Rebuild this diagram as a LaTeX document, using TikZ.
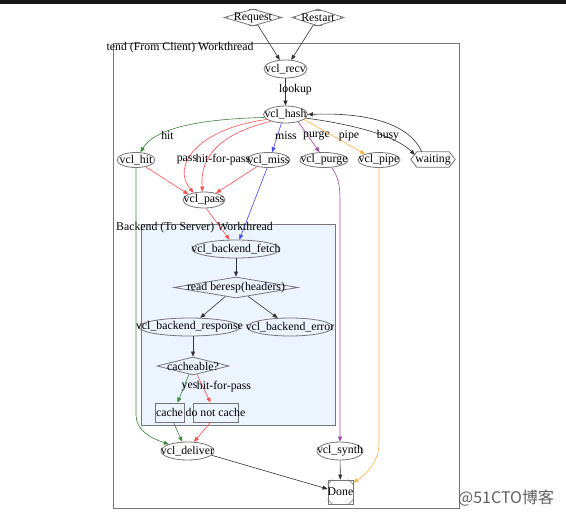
\documentclass[tikz,border=0pt]{standalone}
\usepackage{fontspec}
\setmainfont{Liberation Serif}
\newfontfamily\cjkfont{Noto Sans CJK SC}
\usetikzlibrary{shapes.geometric,arrows.meta,calc}
\definecolor{ngray}{RGB}{118,118,118}
\definecolor{ekc}{RGB}{50,50,50}
\definecolor{egc}{RGB}{60,135,60}
\definecolor{erc}{RGB}{255,80,80}
\definecolor{ebc}{RGB}{70,70,255}
\definecolor{epc}{RGB}{160,70,170}
\definecolor{eoc}{RGB}{255,180,70}
\definecolor{bkfill}{RGB}{236,244,255}
\newcommand\dmarks[1]{\draw[ngray, line width=0.6pt] ($(#1.west)!4pt!(#1.north)$) -- ($(#1.west)!4pt!(#1.south)$) ($(#1.east)!4pt!(#1.north)$) -- ($(#1.east)!4pt!(#1.south)$) ($(#1.north)!4pt!(#1.west)$) -- ($(#1.north)!4pt!(#1.east)$) ($(#1.south)!4pt!(#1.west)$) -- ($(#1.south)!4pt!(#1.east)$);}
\begin{document}
\begin{tikzpicture}[x=1pt,y=-1pt,
  txt/.style={font=\fontsize{11.8}{13}\selectfont, inner sep=0pt, text=black},
  ell/.style={draw=ngray, line width=0.8pt, ellipse, inner sep=0pt},
  dia/.style={draw=ngray, line width=0.8pt, diamond, inner sep=0pt},
  boxn/.style={draw=ngray, line width=0.8pt, rectangle, inner sep=0pt},
  conn/.style={line width=0.6pt, -{Triangle[length=5pt,width=4pt]}},
  ck/.style={conn, draw=ekc},
  cg/.style={conn, draw=egc},
  cr/.style={conn, draw=erc},
  cb/.style={conn, draw=ebc},
  cp/.style={conn, draw=epc},
  co/.style={conn, draw=eoc}]
\useasboundingbox (0,0) rectangle (566,517);
\fill[white] (0,0) rectangle (566,517);
\fill[black!92] (0,0) rectangle (566,3.5);
% clusters
\draw[ngray, line width=0.8pt] (113,43) rectangle (459,508);
\draw[ngray, fill=bkfill, line width=0.8pt] (141,224) rectangle (335,425);
\node[txt, anchor=west] (ftl) at (106.5,48) {tend (From Client) Workthread};
\node[txt, anchor=west] (btl) at (116,228) {Backend (To Server) Workthread};
% nodes
\node[dia, minimum width=58pt, minimum height=17pt, label={[txt]center:Request}] (req) at (253,17.5) {};
\node[dia, minimum width=52pt, minimum height=17pt, label={[txt]center:Restart}] (rst) at (318,17.5) {};
\dmarks{req}
\dmarks{rst}
\node[ell, minimum width=43pt, minimum height=18pt, label={[txt]center:vcl\_recv}] (recv) at (285.5,69) {};
\node[ell, minimum width=44pt, minimum height=17pt, label={[txt]center:vcl\_hash}] (hash) at (285.5,114.5) {};
\node[ell, minimum width=38pt, minimum height=15pt, label={[txt]center:vcl\_hit}] (hit) at (136,160) {};
\node[ell, minimum width=43pt, minimum height=15pt, label={[txt]center:vcl\_miss}] (miss) at (268.5,160) {};
\node[ell, minimum width=48pt, minimum height=15pt, label={[txt]center:vcl\_purge}] (purge) at (324,160) {};
\node[ell, minimum width=42pt, minimum height=15pt, label={[txt]center:vcl\_pipe}] (pipe) at (379,160) {};
\node[minimum width=44pt, minimum height=15pt, inner sep=0pt, label={[txt]center:waiting}] (wait) at (433,159.5) {};
\draw[ngray, line width=0.8pt] (wait.west) -- ($(wait.north west)+(6,0)$) -- ($(wait.north east)+(-6,0)$) -- (wait.east) -- ($(wait.south east)+(-6,0)$) -- ($(wait.south west)+(6,0)$) -- cycle;
\node[ell, minimum width=42pt, minimum height=16pt, label={[txt]center:vcl\_pass}] (pass) at (204,200) {};
\node[ell, minimum width=88pt, minimum height=18pt, label={[txt]center:vcl\_backend\_fetch}] (fetch) at (236,249) {};
\node[dia, minimum width=124pt, minimum height=21pt, label={[txt]center:read beresp(headers)}] (beresp) at (236,287.5) {};
\node[ell, minimum width=101pt, minimum height=18pt, label={[txt]center:vcl\_backend\_response}] (resp) at (189.5,327) {};
\node[ell, minimum width=86pt, minimum height=18pt, label={[txt]center:vcl\_backend\_error}] (err) at (290,327) {};
\node[dia, minimum width=72pt, minimum height=18pt, label={[txt]center:cacheable?}] (cach) at (193,366) {};
\node[boxn, minimum width=29pt, minimum height=19pt, label={[txt]center:cache}] (cache) at (169.5,412.5) {};
\node[boxn, minimum width=45pt, minimum height=19pt, label={[txt]center:do not cache}] (dnc) at (215.5,412.5) {};
\node[ell, minimum width=53pt, minimum height=18pt, label={[txt]center:vcl\_deliver}] (deliver) at (187.5,451) {};
\node[ell, minimum width=46pt, minimum height=18pt, label={[txt]center:vcl\_synth}] (synth) at (340,451) {};
\node[boxn, minimum width=25pt, minimum height=24pt, label={[txt]center:Done}] (done) at (340.5,492) {};
\draw[ngray, line width=0.6pt]
  ($(done.north west)!5pt!(done.north east)$) -- ($(done.north west)!5pt!(done.south west)$)
  ($(done.north east)!5pt!(done.north west)$) -- ($(done.north east)!5pt!(done.south east)$)
  ($(done.south west)!5pt!(done.south east)$) -- ($(done.south west)!5pt!(done.north west)$)
  ($(done.south east)!5pt!(done.south west)$) -- ($(done.south east)!5pt!(done.north east)$);
% edges
\draw[ck] (req) -- (recv);
\draw[ck] (rst) -- (recv);
\draw[ck] (recv) -- (hash);
\node[txt] (lk) at (295.5,90) {lookup};
\draw[cg] (hash.188) .. controls (200,119) and (155,128) .. (hit.60);
\node[txt] (lhit) at (167.5,135) {hit};
\draw[cr] (hash.195) .. controls (200,128) and (170,165) .. (pass.145);
\draw[cr] (hash.205) .. controls (215,135) and (200,160) .. (pass.100);
\node[txt] (lpass) at (187,160) {pass};
\node[txt] (lhfp) at (223,160) {hit-for-pass};
\draw[cb] (hash.245) -- (miss.65);
\node[txt] (lmiss) at (286,136) {miss};
\draw[cp] (hash.-30) -- (purge.120);
\node[txt] (lpurge) at (316.5,136) {purge};
\draw[co] (hash.-15) -- (pipe.157);
\node[txt] (lpipe) at (349,136) {pipe};
\draw[ck] (hash.-10) .. controls (350,124) and (395,135) .. ($(wait.north west)+(4,3)$);
\node[txt] (lbusy) at (388,136) {busy};
\draw[ck] ($(wait.north west)+(11,0)$) .. controls (410,125) and (370,112) .. (hash.0);
\draw[cr] (hit.-35) -- (pass.160);
\draw[cr] (miss.-150) -- (pass.30);
\draw[cr] (pass.-75) -- (fetch.125);
\draw[cb] (miss.-100) -- (fetch.70);
\draw[ck] (fetch) -- (beresp);
\draw[ck] (beresp) -- (resp);
\draw[ck] (beresp) -- (err);
\draw[ck] (cach.north |- resp.south) -- (cach.north);
\draw[cg] ($(cach.south)+(-4,-1)$) -- ($(cache.north)+(8,0)$);
\draw[cr] ($(cach.south)+(4,-1)$) -- ($(dnc.north)+(-5,0)$);
\node[txt] (lyes) at (189.5,387) {yes};
\node[txt] (lhfp2) at (224,387) {hit-for-pass};
\draw[cg] ($(cache.south)+(4,0)$) -- (deliver.120);
\draw[cr] ($(dnc.south)+(-5,0)$) -- (deliver.55);
\draw[cg] (hit.south) -- ++(0,247) .. controls +(0,15) and (150,438) .. (deliver.160);
\draw[ck] (deliver.-10) -- ($(done.west)+(0,-3)$);
\draw[ck] (synth) -- (done);
\draw[cp] (purge.-45) .. controls (338,176) and (340,185) .. (340,200) -- (synth.north);
\draw[co] (pipe.south) -- ++(0,275) .. controls +(0,22) and (362,477) .. ($(done.north east)+(0,3)$);
% watermark
\node[font=\cjkfont\fontsize{16}{16}\selectfont, text=black!62, anchor=west, inner sep=0pt] (wm) at (458,498) {@51CTO博客};
\end{tikzpicture}
\end{document}
